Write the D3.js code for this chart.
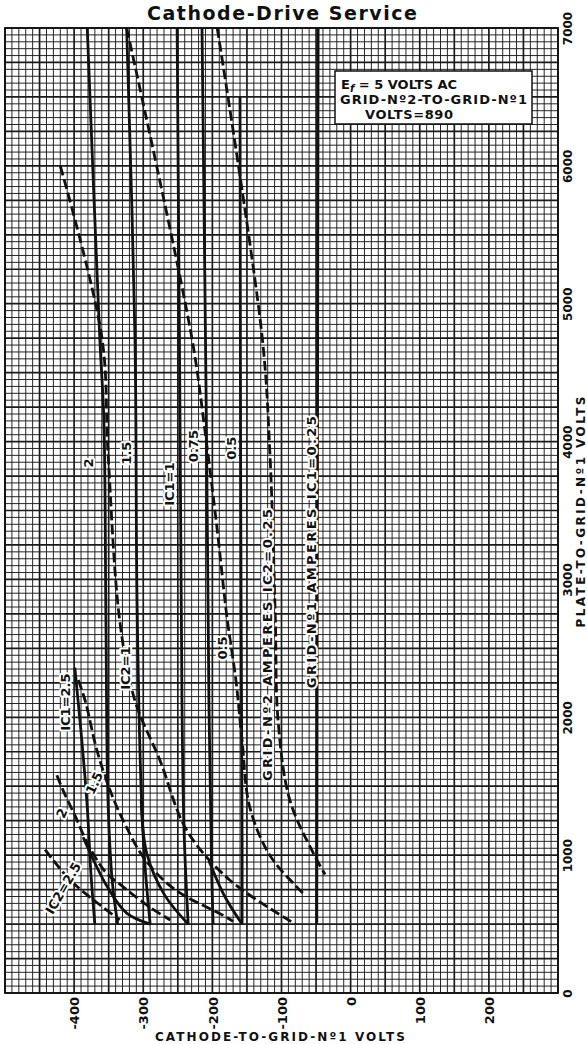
<!DOCTYPE html>
<meta charset="utf-8">
<style>
body { margin:0; background:#ffffff; }
svg text { font-family:"DejaVu Sans", sans-serif; font-weight:bold; fill:#111111; }
.grid line { stroke:#1a1a1a; }
.curve { fill:none; stroke:#111111; stroke-width:2.8; }
.dashed { stroke-dasharray:10,4; }
.halo { stroke:#ffffff; stroke-width:4; stroke-linejoin:round; paint-order:stroke; }
</style>
<body>
<svg id="chart" width="587" height="1044"></svg>
<script src="https://cdnjs.cloudflare.com/ajax/libs/d3/7.8.5/d3.min.js"></script>
<script>

// tick labels
var cathodeTicks = [-400, -300, -200, -100, 0, 100, 200];
var plateTicks = [0, 1000, 2000, 3000, 4000, 5000, 6000, 7000];

// grid-No.1 current curves: [cathode-to-grid volts, plate-to-grid volts]
var ic1_250 = [[-399,2360],[-389,1840],[-381,1350],[-376,890],[-370,500]];
var ic1_200 = [[-381,7000],[-363,4760],[-357,4160],[-354,2700],[-351,1400],[-345,820],[-337,500]];
var ic1_150 = [[-324,7000],[-312,4760],[-309,2850],[-303,1470],[-298,960],[-290,500]];
var ic1_100 = [[-251,7000],[-247,4300],[-244,2120],[-241,1180],[-235,500]];
var ic1_075 = [[-215,7000],[-209,4300],[-205,2120],[-201,870],[-199,500]];
var ic1_050 = [[-160,6500],[-159,3580],[-157,1110],[-157,500]];
var ic1_025 = [[-47,7000],[-49,500]];

// solid bends near the low plate-voltage end
var knee_a = [[-387,1130],[-352,770],[-324,580],[-290,500]];
var knee_b = [[-303,1400],[-295,1015],[-269,710],[-235,500]];
var knee_c = [[-205,960],[-182,700],[-157,500]];

// grid-No.2 current curves (dashed)
var ic2_250 = [[-442,1040],[-406,820],[-363,640],[-334,530]];
var ic2_200 = [[-425,1580],[-416,1470],[-399,1290],[-381,1090],[-355,880],[-329,770],[-290,620],[-261,530]];
var ic2_150 = [[-394,2270],[-384,2120],[-367,1760],[-348,1470],[-326,1220],[-297,965],[-254,750],[-185,565],[-170,520]];
var ic2_100 = [[-420,6000],[-360,4760],[-351,3920],[-334,2700],[-312,2120],[-276,1690],[-237,1180],[-175,820],[-80,500]];
var ic2_050 = [[-324,7000],[-230,4760],[-211,4090],[-193,3360],[-179,2730],[-166,2270],[-157,1830],[-146,1350],[-117,1000],[-78,770],[-66,710]];
var ic2_025 = [[-193,7000],[-128,4760],[-117,3940],[-109,2730],[-105,1980],[-88,1400],[-54,1015],[-37,860]];

// curve labels: text, cathode volts, plate volts
var curveLabels = [
  ["IC1=2.5", -413, 2110],
  ["2", -380, 3844],
  ["1.5", -325, 3916],
  ["IC1=1", -263, 3691],
  ["0.75", -227, 3967],
  ["0.5", -172, 3952],
  ["GRID-Nº1 AMPERES IC1=0.25", -57, 3198],
  ["GRID-Nº2 AMPERES IC2=0.25", -120, 2524],
  ["0.5", -186, 2502],
  ["IC2=1", -326, 2357],
  ["1.5", -371, 1523],
  ["2", -418, 1305],
  ["IC2=2.5", -416, 761]
];

var svg = d3.select("#chart");
var x = d3.scaleLinear().domain([-500, 300]).range([5, 558]);
var y = d3.scaleLinear().domain([0, 7000]).range([993, 28]);

// graph paper
var grid = svg.append("g").attr("class", "grid");
grid.selectAll("line.v")
    .data(d3.range(-500, 301, 10))
  .enter().append("line")
    .attr("class", "v")
    .attr("x1", function(d) { return x(d); })
    .attr("x2", function(d) { return x(d); })
    .attr("y1", y(7000)).attr("y2", y(0))
    .style("stroke-width", function(d) { return d % 50 == 0 ? 1.7 : 0.95; });
grid.selectAll("line.h")
    .data(d3.range(0, 7001, 50))
  .enter().append("line")
    .attr("class", "h")
    .attr("y1", function(d) { return y(d); })
    .attr("y2", function(d) { return y(d); })
    .attr("x1", x(-500)).attr("x2", x(300))
    .style("stroke-width", function(d) { return d % 250 == 0 ? 1.7 : 0.95; });
svg.append("rect")
    .attr("x", x(-500)).attr("y", y(7000))
    .attr("width", x(300) - x(-500)).attr("height", y(0) - y(7000))
    .attr("fill", "none").attr("stroke", "#111").attr("stroke-width", 1.8);

var line = d3.line()
    .x(function(d) { return x(d[0]); })
    .y(function(d) { return y(d[1]); })
    .curve(d3.curveCatmullRom.alpha(0.5));

var solids = [ic1_250, ic1_200, ic1_150, ic1_100, ic1_075, ic1_050, ic1_025, knee_a, knee_b, knee_c];
var dashes = [ic2_250, ic2_200, ic2_150, ic2_100, ic2_050, ic2_025];

svg.append("g").selectAll("path")
    .data(solids)
  .enter().append("path")
    .attr("class", "curve")
    .attr("d", line);
svg.append("g").selectAll("path")
    .data(dashes)
  .enter().append("path")
    .attr("class", "curve dashed")
    .attr("d", line);

// labels along the curves
var angles = [-90, -90, -90, -90, -90, -90, -90, -90, -90, -90, -65, -65, -60];
svg.append("g").selectAll("text")
    .data(curveLabels)
  .enter().append("text")
    .attr("class", "halo")
    .attr("transform", function(d, i) {
      return "translate(" + x(d[1]) + "," + y(d[2]) + ") rotate(" + angles[i] + ")";
    })
    .attr("text-anchor", "middle")
    .attr("dy", "0.36em")
    .attr("textLength", function(d) { return d[0].length > 20 ? 272 : null; })
    .attr("lengthAdjust", "spacing")
    .style("font-size", "13px")
    .text(function(d) { return d[0]; });

// legend box
var box = svg.append("g");
box.append("rect")
    .attr("x", 335).attr("y", 71).attr("width", 197).attr("height", 53)
    .attr("fill", "#fff").attr("stroke", "#111").attr("stroke-width", 1.5);
var t1 = box.append("text").attr("x", 341).attr("y", 89).style("font-size", "13px");
t1.append("tspan").text("E");
t1.append("tspan").attr("dy", 3).style("font-size", "10px").style("font-style", "italic").text("f");
t1.append("tspan").attr("dy", -3).text(" = 5  VOLTS  AC");
box.append("text").attr("x", 340).attr("y", 104).style("font-size", "13px")
    .attr("textLength", 187).attr("lengthAdjust", "spacing")
    .text("GRID-Nº2-TO-GRID-Nº1");
box.append("text").attr("x", 365).attr("y", 119).style("font-size", "13px")
    .attr("textLength", 88).attr("lengthAdjust", "spacing")
    .text("VOLTS=890");

// axes
var fmt = d3.format("d");
var xAxis = svg.append("g")
    .attr("transform", "translate(0," + y(0) + ")")
    .call(d3.axisBottom(x).tickValues(cathodeTicks).tickFormat(function(d) { return String(d); })
      .tickSize(0).tickPadding(0));
xAxis.select(".domain").remove();
xAxis.selectAll("text")
    .attr("transform", "rotate(-90)")
    .attr("x", -4).attr("y", 0).attr("dy", "0.36em")
    .attr("text-anchor", "end")
    .style("font-size", "13px");

var yAxis = svg.append("g")
    .attr("transform", "translate(" + x(300) + ",0)")
    .call(d3.axisRight(y).tickValues(plateTicks).tickFormat(fmt).tickSize(0).tickPadding(0));
yAxis.select(".domain").remove();
yAxis.selectAll("text")
    .attr("transform", "rotate(-90)")
    .attr("x", 0).attr("y", 10).attr("dy", "0.36em")
    .attr("text-anchor", "middle")
    .style("font-size", "12px");

svg.append("text")
    .attr("x", 280).attr("y", 1041)
    .attr("text-anchor", "middle")
    .attr("textLength", 250).attr("lengthAdjust", "spacing")
    .style("font-size", "12px")
    .text("CATHODE-TO-GRID-Nº1 VOLTS");
svg.append("text")
    .attr("transform", "translate(585,512) rotate(-90)")
    .attr("text-anchor", "middle")
    .attr("textLength", 231).attr("lengthAdjust", "spacing")
    .style("font-size", "12px")
    .text("PLATE-TO-GRID-Nº1 VOLTS");

svg.append("text")
    .attr("x", 282).attr("y", 20)
    .attr("text-anchor", "middle")
    .attr("textLength", 270).attr("lengthAdjust", "spacing")
    .style("font-size", "19px")
    .text("Cathode-Drive Service");

</script>
